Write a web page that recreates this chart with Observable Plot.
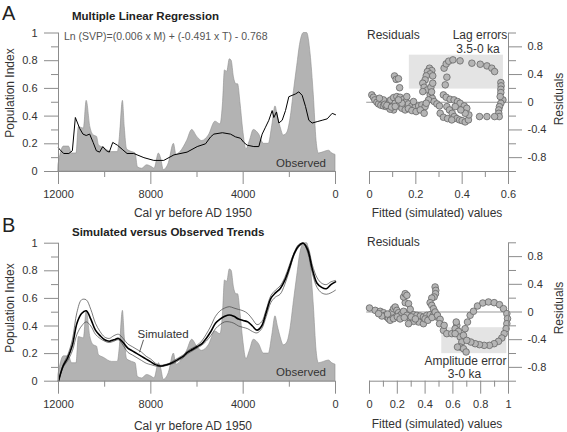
<!DOCTYPE html>
<html><head><meta charset="utf-8">
<script src="https://cdn.jsdelivr.net/npm/d3@7"></script>
<script src="https://cdn.jsdelivr.net/npm/@observablehq/plot@0.6"></script>
<style>
body{margin:0;background:#fff;}
#wrap{position:relative;width:567px;height:432px;overflow:hidden;background:#fff;font-family:"Liberation Sans",Arial,sans-serif;}
#wrap svg{position:absolute;}
</style></head><body><div id="wrap"></div>
<script>
// ---------- DATA ----------
const obsYear = [12000,11770,11550,11410,11220,11120,10900,10780,10620,10470,10330,10250,10040,9680,9430,9340,9210,9130,9030,8810,8660,8560,8380,8160,7940,7840,7650,7550,7440,7220,7000,6890,6720,6430,6210,5990,5780,5490,5200,4980,4870,4790,4690,4580,4500,4400,4290,4220,4120,4000,3860,3710,3540,3320,3100,2890,2740,2600,2500,2380,2240,2090,1950,1800,1660,1520,1370,1230,1080,940,820,720,500,290,140,0];
const obsValue = [0.05,0.18,0.18,0.13,0.13,0.32,0.31,0.51,0.32,0.26,0.25,0.19,0.17,0.14,0.14,0.25,0.51,0.32,0.16,0.14,0.13,0.03,0.02,0.045,0.03,0.02,0.13,0.09,0.01,0.06,0.20,0.12,0.14,0.22,0.30,0.25,0.22,0.26,0.36,0.34,0.50,0.73,0.72,0.81,0.80,0.68,0.63,0.63,0.50,0.30,0.16,0.22,0.30,0.27,0.20,0.20,0.33,0.47,0.40,0.32,0.26,0.28,0.38,0.58,0.76,0.93,1.00,1.00,0.85,0.55,0.22,0.13,0.14,0.15,0.13,0.12];

const regYear = [12000,11900,11770,11550,11400,11270,11080,10940,10800,10650,10500,10360,10220,10080,9930,9800,9650,9450,9240,9030,8740,8300,7870,7440,7000,6430,5990,5630,5410,5270,4900,4550,4330,4115,3971,3827,3538,3321,3177,3032,2888,2744,2671,2556,2455,2310,2166,2022,1733,1589,1444,1300,1155,1011,794,578,361,144,0];
const regValue = [0.17,0.15,0.13,0.13,0.15,0.39,0.31,0.27,0.26,0.27,0.21,0.15,0.14,0.18,0.15,0.14,0.21,0.19,0.16,0.13,0.13,0.10,0.08,0.08,0.12,0.14,0.18,0.20,0.25,0.27,0.28,0.27,0.25,0.24,0.21,0.19,0.18,0.18,0.27,0.32,0.37,0.44,0.39,0.43,0.35,0.37,0.44,0.54,0.56,0.575,0.55,0.47,0.37,0.35,0.36,0.37,0.38,0.42,0.41];

const simYear = [12000,11800,11600,11400,11200,11000,10800,10600,10400,10200,10000,9800,9600,9400,9200,9000,8800,8600,8400,8200,8000,7800,7600,7400,7200,7000,6800,6600,6400,6200,6000,5800,5600,5400,5200,5000,4800,4600,4400,4200,4000,3800,3600,3400,3200,3000,2800,2600,2400,2200,2000,1800,1600,1400,1200,1000,800,600,400,200,0];
const simMid = [0.00,0.11,0.17,0.26,0.42,0.49,0.51,0.45,0.37,0.33,0.30,0.29,0.30,0.31,0.28,0.24,0.22,0.20,0.18,0.16,0.14,0.12,0.11,0.115,0.125,0.14,0.16,0.18,0.21,0.23,0.25,0.27,0.31,0.36,0.42,0.45,0.47,0.48,0.47,0.45,0.44,0.43,0.40,0.37,0.40,0.50,0.60,0.64,0.67,0.73,0.82,0.92,0.98,1.00,0.95,0.81,0.71,0.68,0.67,0.70,0.72];
const simUpper = [0.00,0.12,0.19,0.30,0.50,0.59,0.59,0.52,0.42,0.36,0.32,0.31,0.33,0.34,0.31,0.27,0.25,0.23,0.21,0.18,0.16,0.13,0.115,0.12,0.13,0.15,0.17,0.19,0.22,0.24,0.26,0.29,0.34,0.40,0.47,0.51,0.53,0.54,0.53,0.52,0.51,0.49,0.45,0.41,0.43,0.52,0.62,0.66,0.69,0.75,0.84,0.93,0.99,1.00,0.97,0.84,0.75,0.71,0.70,0.72,0.73];
const simLower = [0.00,0.10,0.15,0.22,0.34,0.40,0.43,0.40,0.34,0.31,0.29,0.28,0.29,0.30,0.26,0.21,0.19,0.17,0.15,0.13,0.12,0.11,0.105,0.11,0.12,0.13,0.15,0.17,0.20,0.22,0.24,0.26,0.29,0.33,0.38,0.41,0.43,0.43,0.42,0.40,0.39,0.38,0.36,0.35,0.38,0.47,0.57,0.61,0.63,0.70,0.80,0.91,0.97,1.00,0.93,0.78,0.68,0.64,0.63,0.64,0.66];

const fitA = [0.010,0.017,0.023,0.032,0.039,0.049,0.060,0.072,0.082,0.089,0.078,0.092,0.104,0.118,0.132,0.147,0.158,0.168,0.183,0.197,0.212,0.226,0.240,0.111,0.125,0.140,0.154,0.168,0.183,0.201,0.219,0.236,0.104,0.089,0.060,0.043,0.140,0.190,0.161,0.125,0.066,0.075,0.095,0.111,
 0.108,0.115,0.125,0.130,
 0.259,0.269,0.250,0.262,0.245,0.273,0.240,0.230,0.236,0.250,0.265,0.273,0.262,0.271,0.255,0.245,0.279,0.291,0.302,0.230,0.268,
 0.322,0.331,0.342,0.360,0.334,0.327,0.319,0.331,0.348,0.365,0.380,0.391,0.409,0.420,0.334,0.345,0.357,0.366,0.377,0.389,0.400,0.413,0.427,0.429,0.413,0.394,0.370,0.305,0.319,0.337,0.355,
 0.391,0.442,0.478,0.507,0.528,0.540,0.567,0.568,0.567,0.567,0.576,0.567,0.561,0.558,0.558,0.560,0.540,0.507,0.475,0.564];
const resA = [0.106,0.072,0.034,0.000,-0.024,-0.043,-0.053,-0.063,-0.043,-0.063,0.010,0.034,0.067,0.082,0.072,0.043,0.010,-0.024,-0.053,-0.072,-0.053,-0.039,-0.063,-0.014,-0.053,-0.087,-0.111,-0.092,-0.120,-0.135,-0.111,-0.159,-0.111,-0.100,0.034,0.058,-0.014,0.010,0.082,0.034,-0.030,-0.045,-0.070,-0.060,
 0.380,0.330,0.340,0.210,
 0.492,0.458,0.443,0.410,0.381,0.381,0.323,0.275,0.217,0.178,0.217,0.275,0.106,0.058,0.034,-0.014,0.010,-0.024,-0.053,0.154,0.150,
 0.492,0.554,0.593,0.612,0.362,0.251,0.106,0.072,0.043,0.034,0.010,-0.014,-0.053,-0.087,-0.063,-0.111,-0.159,-0.207,-0.236,-0.255,-0.265,-0.284,-0.255,-0.183,-0.159,-0.111,-0.063,-0.159,-0.217,-0.236,-0.255,
 0.598,0.564,0.549,0.525,0.492,0.443,0.284,0.236,0.188,0.140,0.034,-0.014,-0.063,-0.111,-0.159,-0.207,-0.207,-0.207,-0.207,0.082];

const fitB = [0.000,0.041,0.077,0.101,0.113,0.125,0.137,0.149,0.161,0.173,0.185,0.197,0.209,0.221,0.233,0.245,0.257,0.245,0.257,0.269,0.281,0.293,0.269,0.293,0.317,0.341,0.365,0.388,0.412,0.436,0.460,0.484,0.353,0.388,0.317,0.281,0.149,0.173,0.089,0.065,0.130,0.200,0.220,0.250,0.300,0.330,0.400,0.420,0.450,
 0.472,0.477,0.475,0.465,0.448,0.436,0.448,0.460,0.472,0.489,0.508,0.504,0.532,0.556,0.592,0.628,0.624,0.616,0.640,0.652,0.664,0.652,0.676,0.695,
 0.676,0.688,0.705,0.724,0.748,0.777,0.815,0.856,0.897,0.935,0.964,0.988,0.993,0.988,0.983,0.969,0.952,0.928,0.897,0.863,0.825,0.791,0.760,0.729,0.700,0.537,0.616,0.633];
const resB = [0.058,0.024,0.010,-0.010,-0.048,-0.072,-0.096,-0.048,0.000,0.048,0.072,0.024,-0.010,-0.048,-0.024,0.010,0.135,0.217,0.265,0.241,0.120,0.039,-0.048,-0.096,-0.039,-0.048,-0.058,-0.072,-0.048,-0.039,-0.048,-0.072,-0.145,-0.169,-0.135,-0.169,-0.120,-0.096,-0.058,-0.024,-0.030,-0.070,-0.100,-0.080,-0.070,-0.100,-0.100,-0.120,-0.080,
 0.362,0.313,0.265,0.217,0.202,0.135,0.096,0.048,0.000,-0.048,-0.106,-0.169,-0.265,-0.313,-0.313,-0.193,-0.145,-0.241,-0.280,-0.361,-0.434,-0.506,-0.530,-0.578,
 -0.337,-0.241,-0.145,-0.048,0.010,0.087,0.130,0.145,0.135,0.106,0.048,-0.024,-0.096,-0.169,-0.241,-0.313,-0.376,-0.424,-0.458,-0.482,-0.482,-0.472,-0.458,-0.434,-0.410,-0.193,-0.313,-0.506];

const lagErrorBox = [{x1: 0.172, x2: 0.578, y1: 0.19, y2: 0.68}];
const ampErrorBox = [{x1: 0.52, x2: 0.988, y1: -0.602, y2: -0.227}];

const timeTicksMajor = [12000, 8000, 4000, 0];
const timeTicksMinor = [10000, 6000, 2000];
const popTicksMajor = [0, 0.2, 0.4, 0.6, 0.8, 1];
const popTicksMinor = [0.1, 0.3, 0.5, 0.7, 0.9];
const resTicksMajor = [-0.8, -0.4, 0, 0.4, 0.8];
const resTicksMinor = [-1, -0.6, -0.2, 0.2, 0.6, 1];
const fitATicksMajor = [0, 0.2, 0.4, 0.6];
const fitATicksMinor = [0.1, 0.3, 0.5];
const fitBTicksMajor = [0, 0.2, 0.4, 0.6, 0.8, 1];
const fitBTicksMinor = [0.1, 0.3, 0.5, 0.7, 0.9];

// ---------- DRAW ----------
const FONT = '"Liberation Sans", Arial, Helvetica, sans-serif';
const AX = "#8c8c8c", TX = "#333";
const wrap = document.getElementById("wrap");
const fmt = d => String(d);
const blank = () => "";

function place(svg, left, top) {
  svg.style.left = left + "px"; svg.style.top = top + "px";
  svg.style.maxWidth = "none";
  wrap.appendChild(svg);
}

function timePanel(top, height, mt, mb, marks) {
  const p = Plot.plot({
    width: 340, height, marginLeft: 58, marginRight: 5, marginTop: mt, marginBottom: mb,
    x: {domain: [12000, 0]}, y: {domain: [0, 1]},
    style: {fontFamily: FONT, fontSize: "11px", color: TX, background: "transparent", overflow: "visible"},
    marks: [
      Plot.areaY(obsValue, {x: obsYear, y: obsValue, fill: "#b3b3b3", stroke: "#8f8f8f", strokeWidth: 0.6, curve: "monotone-x"}),
      ...marks,
      Plot.ruleY([0], {stroke: AX}),
      Plot.ruleX([12000], {stroke: AX}),
      Plot.axisY(popTicksMajor, {anchor: "left", tickSize: 14, tickPadding: 7, stroke: AX, fill: TX, tickFormat: fmt, label: null}),
      Plot.axisY(popTicksMinor, {anchor: "left", tickSize: 7, stroke: AX, tickFormat: blank, label: null}),
      Plot.axisX(timeTicksMajor, {anchor: "bottom", tickSize: 13, tickPadding: 6, stroke: AX, fill: TX, tickFormat: fmt, label: null}),
      Plot.axisX(timeTicksMinor, {anchor: "bottom", tickSize: 6, stroke: AX, tickFormat: blank, label: null})
    ]
  });
  place(p, 0, top);
}

function scatterPanel(top, height, mt, mb, xMax, xMajor, xMinor, box, fit, res) {
  const p = Plot.plot({
    width: 227, height, marginLeft: 29, marginRight: 59, marginTop: mt, marginBottom: mb,
    x: {domain: [0, xMax]}, y: {domain: [-1, 1]},
    style: {fontFamily: FONT, fontSize: "11px", color: TX, background: "transparent", overflow: "visible"},
    marks: [
      Plot.rect(box, {x1: "x1", x2: "x2", y1: "y1", y2: "y2", fill: "#e4e4e4"}),
      Plot.ruleY([0], {x1: -0.02 * xMax, x2: xMax, stroke: "#999"}),
      Plot.dot(res, {x: fit, y: res, r: 3.3, fill: "#b5b5b5", stroke: "#666", strokeWidth: 0.8}),
      Plot.ruleY([-1], {stroke: AX}),
      Plot.ruleX([xMax], {stroke: AX}),
      Plot.axisY(resTicksMajor, {anchor: "right", tickSize: 13, tickPadding: 6, stroke: AX, fill: TX, tickFormat: fmt, label: null}),
      Plot.axisY(resTicksMinor, {anchor: "right", tickSize: 7, stroke: AX, tickFormat: blank, label: null}),
      Plot.axisX(xMajor, {anchor: "bottom", tickSize: 13, tickPadding: 6, stroke: AX, fill: TX, tickFormat: fmt, label: null}),
      Plot.axisX(xMinor, {anchor: "bottom", tickSize: 6, stroke: AX, tickFormat: blank, label: null})
    ]
  });
  place(p, 340, top);
}

// Panel A
timePanel(0, 215, 32.5, 44, [
  Plot.lineY(regValue, {x: regYear, y: regValue, stroke: "#000", strokeWidth: 1}),
  Plot.text(["Observed"], {x: [1495], y: [0.06], fontSize: 11.5, fill: TX})
]);
scatterPanel(0, 215, 32.5, 44, 0.6, fitATicksMajor, fitATicksMinor, lagErrorBox, fitA, resA);

// Panel B
timePanel(215, 217, 27.7, 51.3, [
  Plot.lineY(simUpper, {x: simYear, y: simUpper, stroke: "#444", strokeWidth: 0.7, curve: "catmull-rom"}),
  Plot.lineY(simLower, {x: simYear, y: simLower, stroke: "#444", strokeWidth: 0.7, curve: "catmull-rom"}),
  Plot.lineY(simMid, {x: simYear, y: simMid, stroke: "#000", strokeWidth: 1.6, curve: "catmull-rom"}),
  Plot.link([0], {x1: [8318], y1: [0.30], x2: [8491], y2: [0.21], stroke: "#333", strokeWidth: 0.8}),
  Plot.text(["Simulated"], {x: [7470], y: [0.343], fontSize: 11.5, fill: TX}),
  Plot.text(["Observed"], {x: [1495], y: [0.061], fontSize: 11.5, fill: TX})
]);
scatterPanel(215, 217, 27.3, 51.3, 1, fitBTicksMajor, fitBTicksMinor, ampErrorBox, fitB, resB);

// ---------- TEXT OVERLAY ----------
const ov = d3.create("svg").attr("width", 567).attr("height", 432)
  .style("left", "0px").style("top", "0px")
  .attr("font-family", FONT).attr("fill", TX);
function txt(s, x, y, o = {}) {
  const t = ov.append("text").text(s)
    .attr("x", x).attr("y", y)
    .attr("dominant-baseline", "central")
    .attr("text-anchor", o.anchor || "start")
    .attr("font-size", o.size || 12)
    .attr("font-weight", o.weight || "normal")
    .attr("fill", o.fill || TX);
  if (o.rotate) t.attr("transform", `rotate(${o.rotate},${x},${y})`);
  return t;
}
txt("A", 2, 12.5, {size: 20, fill: "#222"});
txt("B", 2, 225, {size: 20, fill: "#222"});
txt("Multiple Linear Regression", 72, 15.7, {size: 11.5, weight: "bold", fill: "#222"});
txt("Simulated versus Observed Trends", 72, 232, {size: 11.5, weight: "bold", fill: "#222"});
txt("Ln (SVP)=(0.006 x M) + (-0.491 x T) - 0.768", 64, 35.5, {size: 10.5, fill: "#555"});
txt("Population Index", 10, 93, {anchor: "middle", rotate: -90});
txt("Population Index", 10, 308, {anchor: "middle", rotate: -90});
txt("Cal yr before AD 1950", 193, 213, {anchor: "middle"});
txt("Cal yr before AD 1950", 193, 425.5, {anchor: "middle"});
txt("Fitted (simulated) values", 437, 213, {anchor: "middle"});
txt("Fitted (simulated) values", 437, 424, {anchor: "middle"});
txt("Residuals", 367, 35, {});
txt("Residuals", 367, 242, {});
txt("Residuals", 559, 99, {anchor: "middle", rotate: -90});
txt("Residuals", 559, 308, {anchor: "middle", rotate: -90});
txt("Lag errors", 480, 35, {anchor: "middle"});
txt("3.5-0 ka", 478, 49, {anchor: "middle"});
txt("Amplitude error", 465.5, 360.7, {anchor: "middle"});
txt("3-0 ka", 464.5, 374, {anchor: "middle"});
wrap.appendChild(ov.node());
</script></body></html>
